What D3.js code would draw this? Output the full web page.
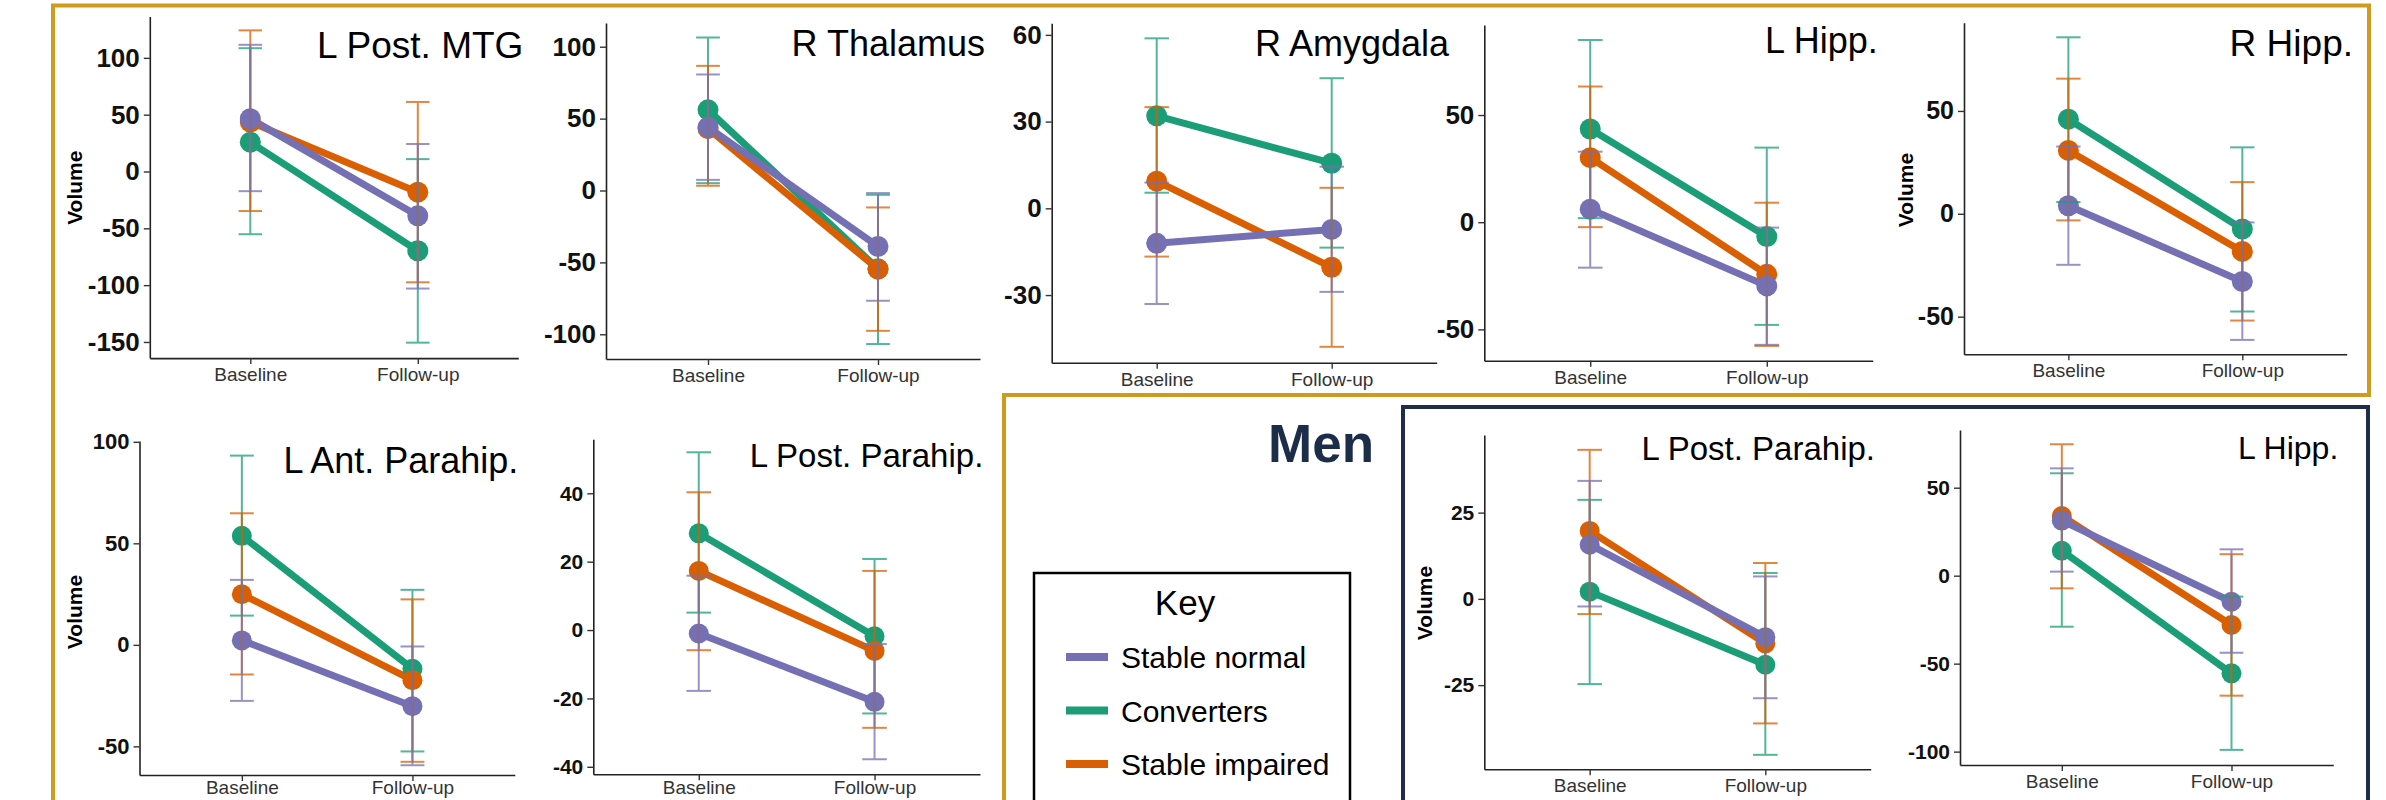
<!DOCTYPE html>
<html><head><meta charset="utf-8">
<script src="https://cdn.jsdelivr.net/npm/d3@7"></script>
<style>body{margin:0;background:#fff}svg{display:block}</style>
</head><body>
<svg id="c" width="2386" height="800"></svg>
<script>
// ---------------- DATA ----------------
const regions = ["L Post. MTG","R Thalamus","R Amygdala","L Hipp.","R Hipp.",
                 "L Ant. Parahip.","L Post. Parahip.","L Post. Parahip.","L Hipp."];
const timepoints = ["Baseline","Follow-up"];
const groups = ["Converters","Stable impaired","Stable normal"]; // drawing order
const legendGroups = ["Stable normal","Converters","Stable impaired"];
const groupColors = {"Stable normal":"#7570b3","Converters":"#1b9e77","Stable impaired":"#d95f02"};

const yTicks = [[100,50,0,-50,-100,-150],[100,50,0,-50,-100],[60,30,0,-30],[50,0,-50],[50,0,-50],
                [100,50,0,-50],[40,20,0,-20,-40],[25,0,-25],[50,0,-50,-100]];
const yLimits = [[-164.2,136.4],[-117.2,116.5],[-53.4,64.0],[-64.6,92],[-68.3,92.9],
                 [-64.1,100.4],[-42.2,55.8],[-49.4,47.5],[-107.6,82.8]];

const stableNormalMean  = [[46.4,-39.0],[44.1,-38.9],[-12.1,-7.3],[6.1,-29.7],[3.9,-32.9],[2.2,-30.2],[-1.0,-21.0],[15.7,-11.1],[31.3,-14.8]];
const stableNormalLower = [[-17.3,-103],[7.4,-76.7],[-33.1,-28.9],[-21.2,-57.2],[-24.8,-61.3],[-27.6,-59.3],[-17.8,-37.8],[-2.2,-28.8],[2.3,-43.8]];
const stableNormalUpper = [[111.5,24.2],[80.7,-1.8],[8.9,14.4],[32.9,-2.5],[32.7,-4.2],[32.0,-0.8],[15.9,-4.1],[34.2,6.5],[61.0,15.0]];

const convertersMean  = [[25.8,-69.7],[56.1,-54.5],[32.0,15.6],[43.5,-6.7],[46.0,-7.4],[53.7,-11.8],[28.3,-1.8],[2.1,-19.1],[14.2,-55.5]];
const convertersLower = [[-55.2,-150.6],[5.1,-106.8],[5.4,-13.6],[1.9,-47.9],[5.7,-47.5],[14.4,-52.5],[5.1,-24.4],[-24.7,-45.2],[-29.0,-99.0]];
const convertersUpper = [[108.5,10.9],[106.4,-3.0],[58.8,45.0],[85.0,34.8],[85.8,32.3],[93.2,27.1],[52.0,20.8],[28.7,7.5],[58.2,-11.9]];

const impairedMean  = [[43.6,-18.2],[43.0,-54.7],[9.4,-20.4],[30.1,-24.3],[30.8,-18.3],[24.9,-17.4],[17.3,-6.1],[19.7,-12.9],[33.9,-28.0]];
const impairedLower = [[-34.8,-97.5],[3.3,-97.6],[-16.7,-47.9],[-2.3,-57.7],[-3.2,-51.9],[-14.6,-57.6],[-5.9,-28.6],[-4.4,-36.1],[-7.2,-68.2]];
const impairedUpper = [[124.2,61.2],[86.7,-11.8],[35.0,7.1],[63.3,9.1],[65.7,15.4],[64.8,22.4],[40.3,17.3],[43.2,10.4],[74.7,12.2]];

const seriesData = {
  "Stable normal":   {mean: stableNormalMean, lower: stableNormalLower, upper: stableNormalUpper},
  "Converters":      {mean: convertersMean,   lower: convertersLower,   upper: convertersUpper},
  "Stable impaired": {mean: impairedMean,     lower: impairedLower,     upper: impairedUpper}
};

// ---------------- LAYOUT ----------------
const layout = [
  {l:149.8, r:518.3,  t:16.5,  b:358.1, tx:523.4,  ty:57.9,  tfs:37, tick:26, vol:[74,187.7]},
  {l:606,   r:980,    t:23,    b:359,   tx:985,    ty:56,    tfs:36, tick:26},
  {l:1051.7,r:1436.7, t:23.3,  b:362.7, tx:1449,   ty:56,    tfs:36, tick:26},
  {l:1484.3,r:1872.7, t:25,    b:360.7, tx:1877.7, ty:53.3,  tfs:36, tick:26},
  {l:1964,  r:2346.7, t:22.7,  b:354.3, tx:2353,   ty:56,    tfs:37, tick:25, vol:[1905,190]},
  {l:139.5, r:514.8,  t:441,   b:775,   tx:518.3,  ty:472.6, tfs:36, tick:22, vol:[74,612]},
  {l:593.3, r:980,    t:439.3, b:774.3, tx:983.3,  ty:467.3, tfs:33, tick:21},
  {l:1484.3,r:1870.7, t:435,   b:769.3, tx:1875,   ty:460,   tfs:33, tick:21, vol:[1424,603]},
  {l:1960,  r:2333.3, t:430,   b:765,   tx:2338.3, ty:459.3, tfs:32, tick:21}
];
const FONT = "'Liberation Sans', Arial, Helvetica, sans-serif";
const svg = d3.select("#c");
svg.append("rect").attr("width",2386).attr("height",800).attr("fill","#fff");

// frames
svg.append("path").attr("d","M1004,802 V395 H2369 V5.5 H53 V802")
  .attr("fill","none").attr("stroke","#cf9b1f").attr("stroke-width",4);
svg.append("path").attr("d","M1403,802 V407 H2368 V802")
  .attr("fill","none").attr("stroke","#1d2d4a").attr("stroke-width",4);

regions.forEach((name,i)=>{
  const L = layout[i];
  const g = svg.append("g");
  const x = d3.scaleLinear().domain([0.4,2.6]).range([L.l,L.r]);
  const y = d3.scaleLinear().domain(yLimits[i]).range([L.b,L.t]);

  const xa = g.append("g").attr("transform",`translate(0,${L.b})`)
    .call(d3.axisBottom(x).tickValues([1,2]).tickFormat(d=>timepoints[d-1]).tickSize(6).tickSizeOuter(0).tickPadding(4));
  const labelBase = Math.min(L.b + 23, 794) - L.b;
  xa.selectAll("text").attr("font-family",FONT).attr("font-size",19).attr("fill","#333")
    .attr("dy",null).attr("y",labelBase);
  const ya = g.append("g").attr("transform",`translate(${L.l},0)`)
    .call(d3.axisLeft(y).tickValues(yTicks[i]).tickFormat(d=>String(d)).tickSize(6).tickSizeOuter(0).tickPadding(4));
  ya.selectAll("text").attr("font-family",FONT).attr("font-size",L.tick).attr("font-weight","bold").attr("fill","#111");
  [xa,ya].forEach(a=>{
    a.select(".domain").attr("stroke","#222").attr("stroke-width",1.6);
    a.selectAll(".tick line").attr("stroke","#333").attr("stroke-width",1.4);
  });

  const capW = 0.14*(x(2)-x(1));
  const line = d3.line().x((d,k)=>x(k+1)).y(d=>y(d));

  groups.forEach(gr=>{
    g.append("path").datum(seriesData[gr].mean[i]).attr("d",line)
      .attr("fill","none").attr("stroke",groupColors[gr]).attr("stroke-width",7);
  });
  groups.forEach(gr=>{
    g.selectAll(null).data(seriesData[gr].mean[i]).join("circle")
      .attr("cx",(d,k)=>x(k+1)).attr("cy",d=>y(d)).attr("r",i<5?10.5:10)
      .attr("fill",groupColors[gr]);
  });
  groups.forEach(gr=>{
    const s = seriesData[gr];
    [0,1].forEach(k=>{
      const cx = x(k+1), lo = y(s.lower[i][k]), hi = y(s.upper[i][k]);
      const eb = g.append("g").attr("stroke",groupColors[gr]).attr("stroke-width",2).attr("opacity",0.75);
      eb.append("line").attr("x1",cx).attr("x2",cx).attr("y1",lo).attr("y2",hi);
      eb.append("line").attr("x1",cx-capW/2).attr("x2",cx+capW/2).attr("y1",lo).attr("y2",lo);
      eb.append("line").attr("x1",cx-capW/2).attr("x2",cx+capW/2).attr("y1",hi).attr("y2",hi);
    });
  });

  g.append("text").attr("x",L.tx).attr("y",L.ty).attr("text-anchor","end")
    .attr("font-family",FONT).attr("font-size",L.tfs).attr("fill","#000").text(name);
  if (L.vol) {
    g.append("text").attr("transform",`translate(${L.vol[0]},${L.vol[1]}) rotate(-90)`)
      .attr("text-anchor","middle").attr("dominant-baseline","central")
      .attr("font-family",FONT).attr("font-size",21).attr("font-weight","bold").attr("fill","#000").text("Volume");
  }
});

// Men label
svg.append("text").attr("x",1374).attr("y",462).attr("text-anchor","end")
  .attr("font-family",FONT).attr("font-size",53).attr("font-weight","bold").attr("fill","#1c2d4a").text("Men");

// Key
svg.append("rect").attr("x",1034).attr("y",573).attr("width",316).attr("height",240)
  .attr("fill","#fff").attr("stroke","#000").attr("stroke-width",2.5);
svg.append("text").attr("x",1185).attr("y",615).attr("text-anchor","middle")
  .attr("font-family",FONT).attr("font-size",35).attr("fill","#000").text("Key");
const ky = d3.scalePoint().domain(legendGroups).range([657,764]);
legendGroups.forEach(gr=>{
  svg.append("line").attr("x1",1066).attr("x2",1108).attr("y1",ky(gr)).attr("y2",ky(gr))
    .attr("stroke",groupColors[gr]).attr("stroke-width",8);
  svg.append("text").attr("x",1121).attr("y",ky(gr)+11)
    .attr("font-family",FONT).attr("font-size",30).attr("fill","#000").text(gr);
});
</script>
</body></html>
